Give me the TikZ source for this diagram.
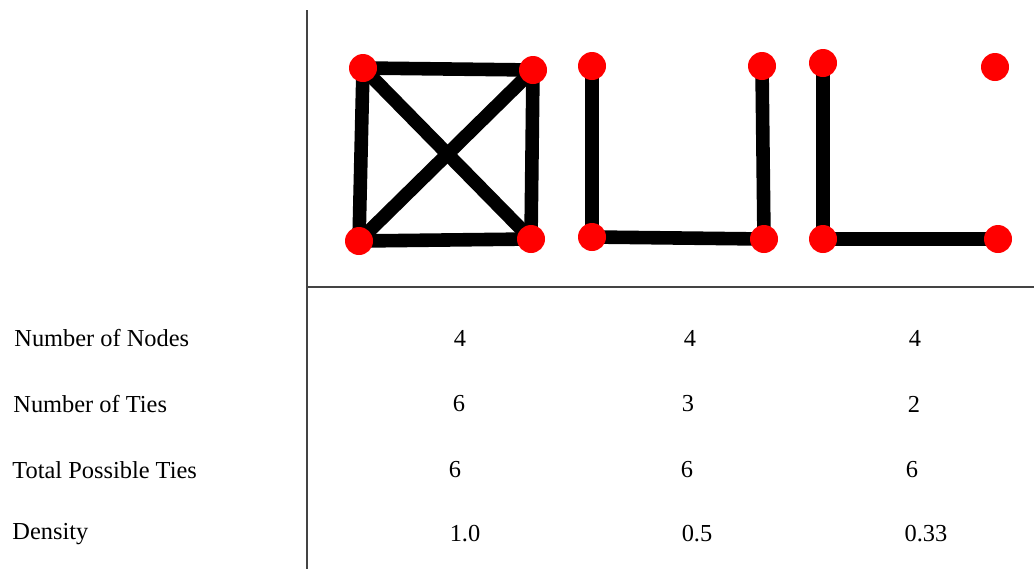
\documentclass[tikz,border=0pt]{standalone}
\usepackage{fontspec}
\setmainfont{Liberation Serif}
\usepackage{xcolor}
\definecolor{cNode}{HTML}{FF0000}
\definecolor{cTie}{HTML}{000000}
\definecolor{cRule}{HTML}{444444}
\usepackage{tikz}
\usetikzlibrary{positioning,backgrounds}
\tikzset{
  node-vertex/.style={circle,fill=cNode,inner sep=0pt,minimum size=14pt},
  edge-tie/.style={draw=cTie,line width=6.8pt},
  rule-line/.style={draw=cRule,line width=1pt},
  row-label/.style={anchor=west,inner sep=0pt,font=\fontsize{12.2}{14}\selectfont},
  row-value/.style={inner sep=0pt,font=\fontsize{12.2}{14}\selectfont},
}

\begin{document}
\begin{tikzpicture}[x=0.5pt,y=-0.5pt]
  \useasboundingbox (0,0) rectangle (1034,569);
  % table rules
  \coordinate (v-top) at (307,10);
  \coordinate (v-bot) at (307,569);
  \coordinate (h-left) at (307,287);
  \coordinate (h-right) at (1034,287);
  \draw[rule-line] (v-top) -- (v-bot);
  \draw[rule-line] (h-left) -- (h-right);
  % complete graph
  \node[node-vertex] (a1) at (363,68) {};
  \node[node-vertex] (a2) at (533,70) {};
  \node[node-vertex] (a3) at (359,241) {};
  \node[node-vertex] (a4) at (531,239) {};
  % three ties
  \node[node-vertex] (b1) at (592,66) {};
  \node[node-vertex] (b2) at (762,66) {};
  \node[node-vertex] (b3) at (592,237) {};
  \node[node-vertex] (b4) at (764,239) {};
  % two ties
  \node[node-vertex] (c1) at (823,63) {};
  \node[node-vertex] (c2) at (995,67) {};
  \node[node-vertex] (c3) at (823,239) {};
  \node[node-vertex] (c4) at (998,239) {};
  \begin{scope}[on background layer]
    \draw[edge-tie] (a1.center) -- (a2.center) -- (a4.center) -- (a3.center) -- cycle;
    \draw[edge-tie] (a1.center) -- (a4.center);
    \draw[edge-tie] (a2.center) -- (a3.center);
    \draw[edge-tie] (b1.center) -- (b3.center) -- (b4.center) -- (b2.center);
    \draw[edge-tie] (c1.center) -- (c3.center) -- (c4.center);
  \end{scope}
  % rows
  \node[row-label] (l-nodes) at (14,338) {Number of Nodes};
  \node[row-label] (l-ties) at (13,404) {Number of Ties};
  \node[row-label] (l-total) at (12,470) {Total Possible Ties};
  \node[row-label] (l-dens) at (12,534) {Density};
  \node[row-value] (n1) at (460,338) {4};
  \node[row-value] (n2) at (690,338) {4};
  \node[row-value] (n3) at (915,338) {4};
  \node[row-value] (t1) at (459,404) {6};
  \node[row-value] (t2) at (688,404) {3};
  \node[row-value] (t3) at (914,404) {2};
  \node[row-value] (p1) at (455,470) {6};
  \node[row-value] (p2) at (687,470) {6};
  \node[row-value] (p3) at (912,470) {6};
  \node[row-value] (d1) at (465,534) {1.0};
  \node[row-value] (d2) at (697,534) {0.5};
  \node[row-value] (d3) at (926,534) {0.33};
\end{tikzpicture}
\end{document}
